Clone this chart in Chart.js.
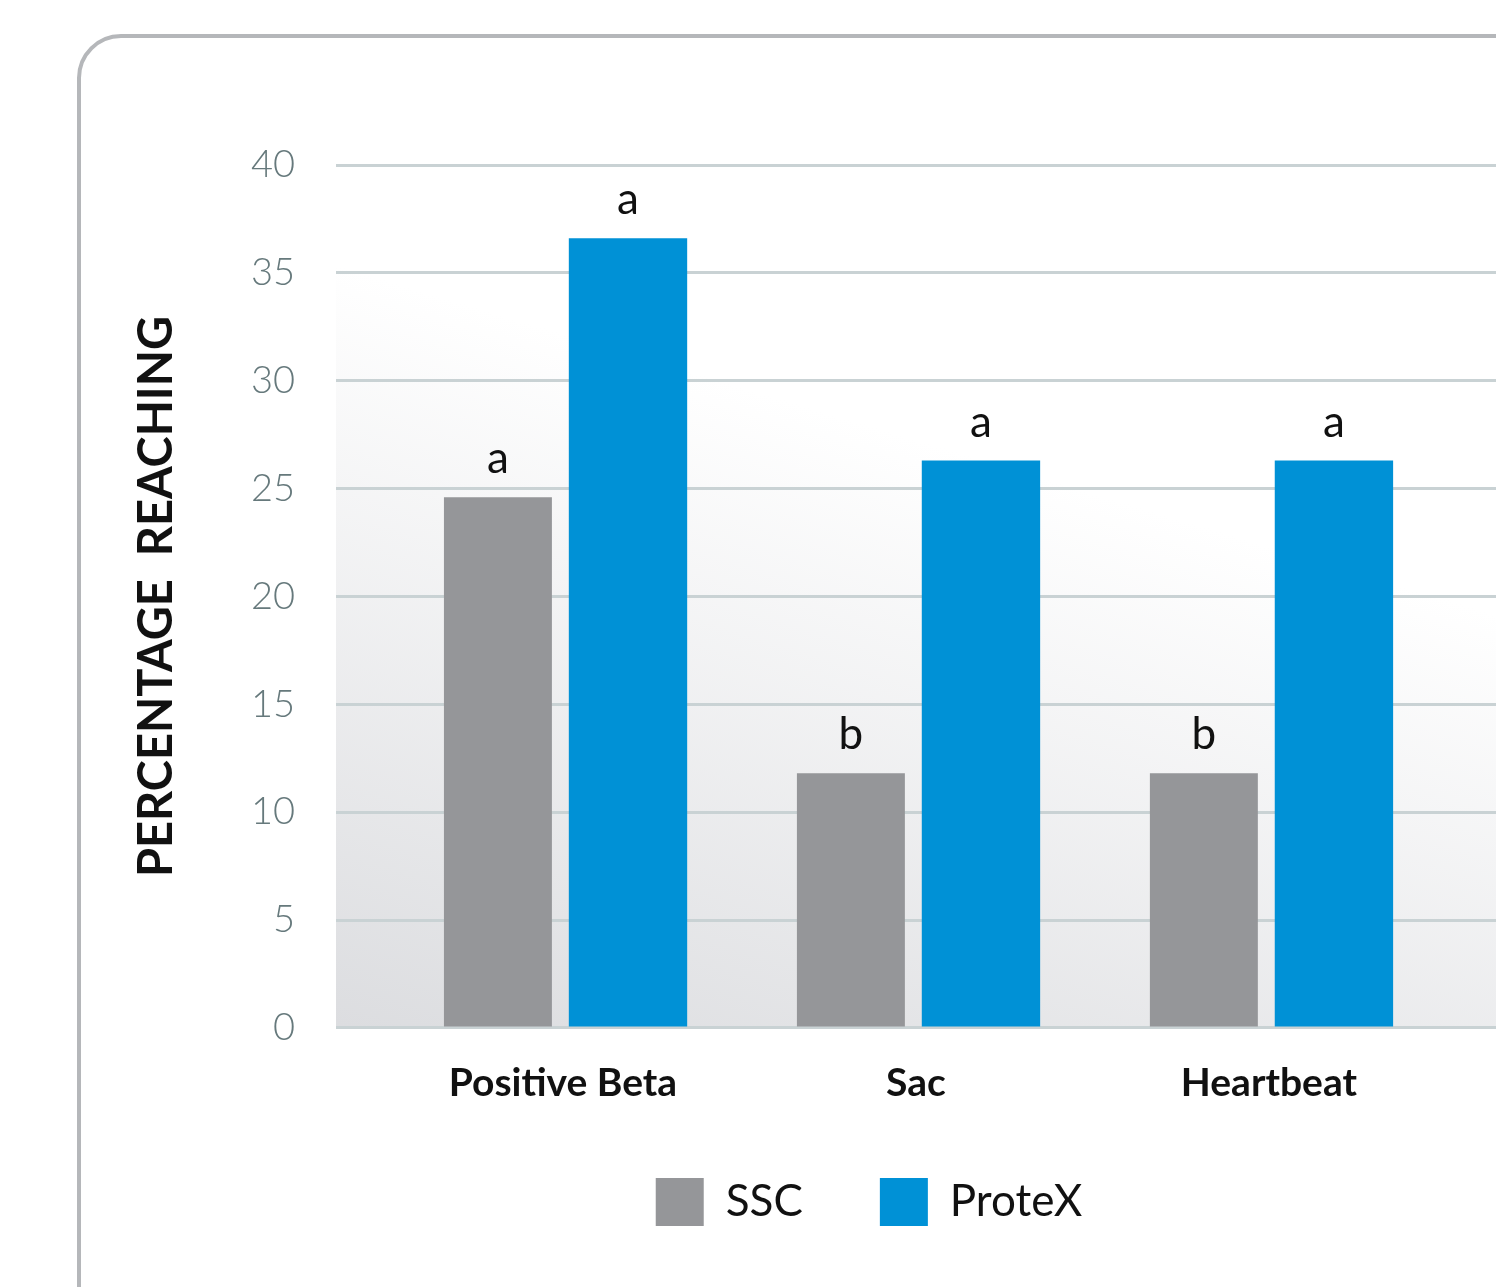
<!DOCTYPE html>
<html>
<head>
<meta charset="utf-8">
<script src="https://cdn.jsdelivr.net/npm/chart.js@4.4.0/dist/chart.umd.min.js"></script>
<style>
  html, body { margin: 0; padding: 0; background: #fff; overflow: hidden; }
  body { width: 1496px; height: 1287px; position: relative; }
  .card {
    position: absolute; left: 77px; top: 34px; width: 1600px; height: 1400px;
    border: 4px solid #b5b7ba; border-radius: 44px; box-sizing: border-box;
  }
  .wrap { position: absolute; left: 0; top: 0; width: 1738px; height: 1287px; }
</style>
</head>
<body>
<div class="card"></div>
<div class="wrap"><canvas id="chart"></canvas></div>
<script>
const categories = ['Positive Beta', 'Sac', 'Heartbeat'];
const sscValues = [24.6, 11.8, 11.8];
const protexValues = [36.6, 26.3, 26.3];
const sscLetters = ['a', 'b', 'b'];
const protexLetters = ['a', 'a', 'a'];
const yTicks = [0, 5, 10, 15, 20, 25, 30, 35, 40];

// plot area background, white top-right fading to grey bottom-left
const plotBackground = {
  id: 'plotBackground',
  beforeDraw(chart) {
    const { ctx, chartArea: a } = chart;
    const g = ctx.createLinearGradient(a.left, a.top + 100, a.left - 216, a.top + 817);
    g.addColorStop(0, '#ffffff');
    g.addColorStop(1, '#dbdcdf');
    ctx.save();
    ctx.fillStyle = g;
    ctx.fillRect(a.left, a.top, a.right - a.left, a.bottom - a.top);
    ctx.restore();
  }
};

// significance letters above each bar
const barLetters = {
  id: 'barLetters',
  afterDatasetsDraw(chart) {
    const ctx = chart.ctx;
    ctx.save();
    ctx.font = '400 44px Lato';
    ctx.fillStyle = '#111';
    ctx.textAlign = 'center';
    ctx.textBaseline = 'alphabetic';
    chart.data.datasets.forEach((ds, di) => {
      chart.getDatasetMeta(di).data.forEach((bar, i) => {
        ctx.fillText(ds.letters[i], bar.x, bar.y - 24);
      });
    });
    ctx.restore();
  }
};

new Chart(document.getElementById('chart'), {
  type: 'bar',
  data: {
    datasets: [
      {
        label: 'SSC',
        data: sscValues.map((v, i) => ({ x: i + 1, y: v })),
        letters: sscLetters,
        backgroundColor: '#959699',
        categoryPercentage: 0.737,
        barPercentage: 0.83
      },
      {
        label: 'ProteX',
        data: protexValues.map((v, i) => ({ x: i + 1, y: v })),
        letters: protexLetters,
        backgroundColor: '#0091d6',
        categoryPercentage: 0.737,
        barPercentage: 0.91
      }
    ]
  },
  options: {
    responsive: true,
    maintainAspectRatio: false,
    animation: false,
    layout: { padding: { top: 165, left: 0, right: 0, bottom: 51 } },
    scales: {
      x: {
        type: 'linear',
        offset: false,
        min: 0.357,
        max: 4.329,
        afterBuildTicks: s => { s.ticks = categories.map((c, i) => ({ value: i + 1 })); },
        // tick marks stay hidden (grid off); tickLength only spaces the labels
        grid: { display: false, drawTicks: true, tickLength: 38 },
        border: { display: false },
        ticks: {
          autoSkip: false,
          maxRotation: 0,
          padding: 0,
          color: '#111',
          font: { family: 'Lato', size: 39, weight: 'bold', lineHeight: 0.9 },
          callback: v => categories[v - 1]
        }
      },
      y: {
        min: 0,
        max: 40,
        afterBuildTicks: s => { s.ticks = yTicks.map(v => ({ value: v })); },
        afterFit: s => { s.width = 336; },
        grid: { color: '#c9d2d4', lineWidth: 3, drawTicks: false },
        border: { display: false },
        ticks: {
          padding: 41,
          color: '#66797c',
          font: { family: 'Lato', size: 38, weight: '300' }
        },
        title: {
          display: true,
          text: 'PERCENTAGE  REACHING',
          color: '#111',
          padding: { top: 129, bottom: 0 },
          font: { family: 'Lato', size: 47, weight: 'bold', lineHeight: 1.2 }
        }
      }
    },
    plugins: {
      tooltip: { enabled: false },
      legend: {
        position: 'bottom',
        labels: {
          boxWidth: 48,
          boxHeight: 48,
          padding: 77,
          color: '#111',
          font: { family: 'Lato', size: 44, weight: '400' }
        }
      }
    }
  },
  plugins: [plotBackground, barLetters]
});
</script>
</body>
</html>
